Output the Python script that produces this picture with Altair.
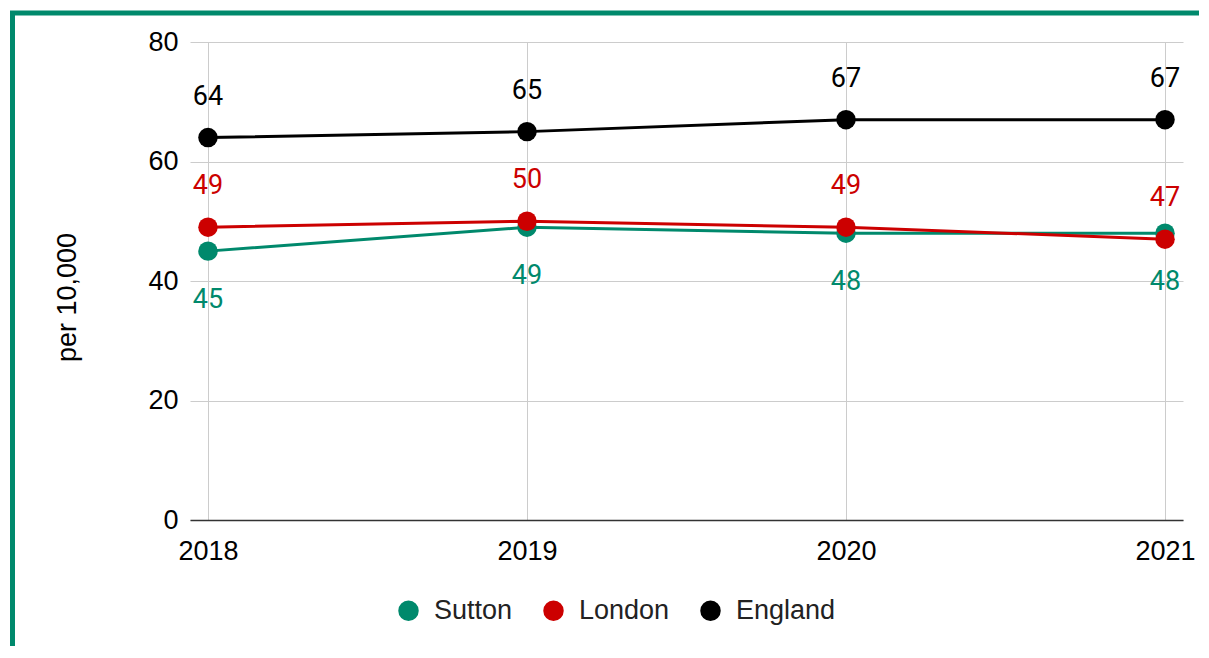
import altair as alt
import pandas as pd

years = [2018, 2019, 2020, 2021]
sutton = [45, 49, 48, 48]
london = [49, 50, 49, 47]
england = [64, 65, 67, 67]
series = ["Sutton", "London", "England"]
colors = ["#00896C", "#CC0000", "#000000"]

rows = []
for name, col, vals in zip(series, colors, [sutton, london, england]):
    for y, v in zip(years, vals):
        rows.append({"year": y, "series": name, "value": v, "col": col})
df = pd.DataFrame(rows)

FONT = "Liberation Sans"
FS = 27

x = alt.X("year:Q", title=None,
          scale=alt.Scale(domain=[2018 - 0.0564, 2021 + 0.0564], nice=False, zero=False),
          axis=alt.Axis(values=years, format="d", ticks=False, labelFlush=False,
                        labelOverlap=False, labelPadding=18, domainColor="#333333",
                        domainWidth=1.5, gridColor="#cccccc"))
y = alt.Y("value:Q", title="per 10,000",
          scale=alt.Scale(domain=[0, 80], nice=False),
          axis=alt.Axis(values=[0, 20, 40, 60, 80], ticks=False, domain=False,
                        labelPadding=12, gridColor="#cccccc", titlePadding=66,
                        titleY=255, titleFontWeight="normal"))

base = alt.Chart(df)

lines = base.mark_line(strokeWidth=3).encode(
    x=x, y=y, color=alt.Color("col:N", scale=None), detail="series:N")

points = base.mark_circle(size=380, opacity=1).encode(
    x=x, y=y,
    color=alt.Color("series:N", scale=alt.Scale(domain=series, range=colors),
                    legend=alt.Legend(title=None, orient="none", direction="horizontal",
                                      legendX=205, legendY=555, symbolSize=420,
                                      symbolType="circle", labelFontSize=FS,
                                      labelFont=FONT, labelColor="#222222",
                                      labelOffset=12, columnPadding=27, padding=0,
                                      symbolOpacity=1)))

labels_above = base.transform_filter("datum.series != 'Sutton'").mark_text(
    dy=-41, fontSize=FS, font="Roboto").encode(
    x=x, y=y, text="value:Q", color=alt.Color("col:N", scale=None))

labels_below = base.transform_filter("datum.series == 'Sutton'").mark_text(
    dy=49, fontSize=FS, font="Roboto").encode(
    x=x, y=y, text="value:Q", color=alt.Color("col:N", scale=None))

border = alt.Chart(alt.Data(values=[{}])).mark_rect(
    fillOpacity=0, stroke="#00896C", strokeWidth=5).encode(
    x=alt.value(-177.5), x2=alt.value(1200), y=alt.value(-29), y2=alt.value(800))

chart = alt.layer(border, lines, points, labels_above, labels_below).properties(
    width=993, height=478,
    autosize=alt.AutoSizeParams(type="none"),
    padding={"left": 182, "top": 34, "right": 16, "bottom": 126},
).configure_view(stroke=None).configure_axis(
    labelFont=FONT, labelFontSize=FS, labelColor="#000000",
    titleFont=FONT, titleFontSize=FS, titleColor="#000000",
    gridColor="#cccccc", gridWidth=1)

chart.save("out.html", embed_options={"renderer": "svg", "actions": False})
